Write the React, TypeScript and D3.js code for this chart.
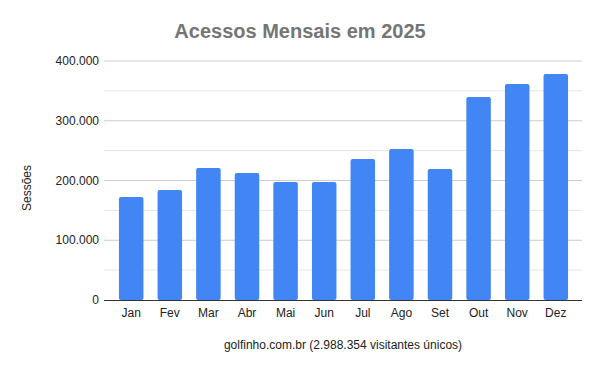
import React, { useEffect, useRef } from "react";
import * as d3 from "d3";

const months = ["Jan", "Fev", "Mar", "Abr", "Mai", "Jun", "Jul", "Ago", "Set", "Out", "Nov", "Dez"];
const sessions = [172400, 184100, 220900, 212500, 197500, 197500, 236000, 252700, 219200, 339700, 361500, 378200];
const majorTicks = [0, 100000, 200000, 300000, 400000];
const minorTicks = [50000, 150000, 250000, 350000];

const title = "Acessos Mensais em 2025";
const yTitle = "Sessões";
const xTitle = "golfinho.com.br (2.988.354 visitantes únicos)";

const W = 600;
const H = 371;

export default function App() {
  const ref = useRef<SVGSVGElement>(null);

  useEffect(() => {
    const svg = d3.select(ref.current);
    svg.selectAll("*").remove();

    const gridLeft = 104;
    const gridRight = 582;
    const font = "Arial, 'Liberation Sans', sans-serif";

    const x = d3.scaleBand().domain(months).range([112, 575]).paddingInner(0.365).paddingOuter(0.18);
    const y = d3.scaleLinear().domain([0, 400000]).range([300, 61]);
    const fmt = (v: number) => d3.format(",")(v).replace(/,/g, ".");

    svg.append("rect").attr("width", W).attr("height", H).attr("fill", "#fff");

    svg.append("text")
      .attr("x", 300).attr("y", 38)
      .attr("text-anchor", "middle")
      .attr("font-family", font).attr("font-weight", "bold").attr("font-size", 20)
      .attr("fill", "#757575")
      .text(title);

    // gridlines
    svg.append("g").selectAll("line").data(minorTicks).join("line")
      .attr("x1", gridLeft).attr("x2", gridRight)
      .attr("y1", (d) => y(d)).attr("y2", (d) => y(d))
      .attr("stroke", "#e6e6e6").attr("stroke-width", 1);
    svg.append("g").selectAll("line").data(majorTicks.filter((d) => d > 0)).join("line")
      .attr("x1", gridLeft).attr("x2", gridRight)
      .attr("y1", (d) => y(d)).attr("y2", (d) => y(d))
      .attr("stroke", "#cccccc").attr("stroke-width", 1);

    svg.append("g").selectAll("text").data(majorTicks).join("text")
      .attr("x", 99).attr("y", (d) => y(d) + 4)
      .attr("text-anchor", "end")
      .attr("font-family", font).attr("font-size", 12).attr("fill", "#222")
      .text((d) => fmt(d));

    // bars
    svg.append("g").selectAll("rect").data(sessions).join("rect")
      .attr("x", (d, i) => x(months[i]) as number)
      .attr("y", (d) => y(d))
      .attr("width", x.bandwidth())
      .attr("height", (d) => y(0) - y(d))
      .attr("rx", 2)
      .attr("fill", "#4285f4");

    svg.append("line")
      .attr("x1", gridLeft).attr("x2", gridRight)
      .attr("y1", 300.5).attr("y2", 300.5)
      .attr("stroke", "#333").attr("stroke-width", 1);

    svg.append("g").selectAll("text").data(months).join("text")
      .attr("x", (d) => (x(d) as number) + x.bandwidth() / 2)
      .attr("y", 317)
      .attr("text-anchor", "middle")
      .attr("font-family", font).attr("font-size", 12).attr("fill", "#222")
      .text((d) => d);

    svg.append("text")
      .attr("transform", "translate(31,188) rotate(-90)")
      .attr("text-anchor", "middle")
      .attr("font-family", font).attr("font-size", 12).attr("fill", "#222")
      .text(yTitle);

    svg.append("text")
      .attr("x", (gridLeft + gridRight) / 2).attr("y", 349)
      .attr("text-anchor", "middle")
      .attr("font-family", font).attr("font-size", 12).attr("fill", "#222")
      .text(xTitle);
  }, []);

  return (
    <svg ref={ref} width={W} height={H} style={{ position: "absolute", left: 0, top: 0 }} />
  );
}
